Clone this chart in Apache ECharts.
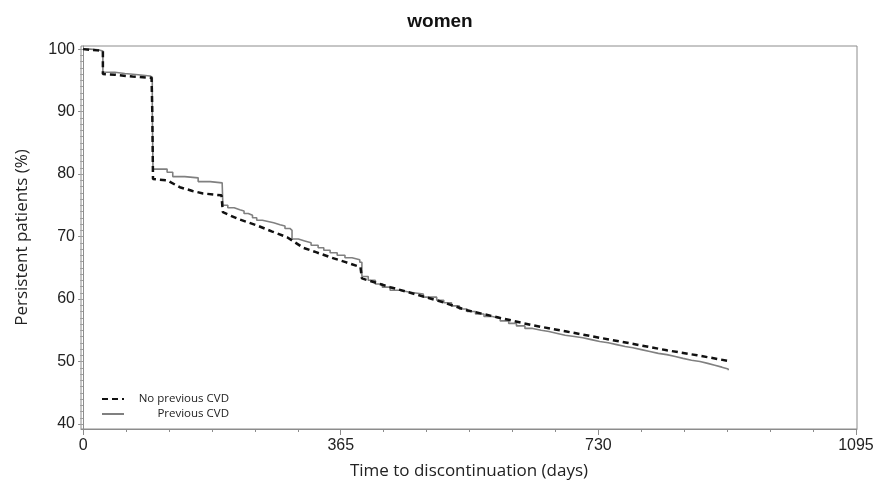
<!DOCTYPE html>
<html>
<head>
<meta charset="utf-8">
<script src="https://cdn.jsdelivr.net/npm/echarts@6/dist/echarts.min.js"></script>
<style>
  html, body { margin: 0; padding: 0; background: #fff; }
  #chart { width: 880px; height: 485px; }
</style>
</head>
<body>
<div id="chart"></div>
<script>
// tick labels
const xTicks = [0, 365, 730, 1095];
const yTicks = [40, 50, 60, 70, 80, 90, 100];

// No previous CVD: [day, % persistent], drawn as a polyline (drops given twice)
const noPrevCvd = [
  [0, 100], [20, 99.8], [28, 99.7], [28, 96.0], [45, 95.9], [70, 95.6], [97, 95.4],
  [98, 90.0], [99, 79.2], [119, 79.0], [137, 77.9], [155, 77.3], [170, 76.9],
  [196, 76.6], [198, 73.9], [220, 72.8], [246, 71.8], [268, 70.8], [289, 69.9],
  [312, 68.2], [330, 67.5], [350, 66.7], [372, 65.9], [393, 65.1], [395, 63.3],
  [415, 62.6], [435, 61.9], [470, 60.8], [501, 59.8], [544, 58.2], [590, 57.0],
  [637, 55.8], [685, 54.8], [732, 53.8], [780, 52.8], [827, 51.8], [870, 51.0],
  [914, 50.1]
];

// Previous CVD: [day, % persistent], step curve
const prevCvd = [
  [0, 100], [10, 99.9], [21, 99.7], [28, 96.3], [45, 96.1], [59, 95.9], [78, 95.7],
  [95, 95.5], [98, 90.0], [99, 80.8], [119, 80.3], [127, 79.6], [144, 79.4],
  [163, 78.8], [180, 78.6], [197, 78.5], [198, 75.0], [205, 74.6], [214, 74.3],
  [222, 74.1], [228, 73.7], [234, 73.4], [240, 73.0], [246, 72.6], [254, 72.4],
  [262, 72.2], [270, 71.9], [279, 71.7], [286, 71.3], [293, 71.0], [296, 69.6],
  [305, 69.3], [314, 69.0], [323, 68.6], [333, 68.2], [341, 67.8], [350, 67.4],
  [360, 67.0], [371, 66.6], [381, 66.3], [392, 65.9], [395, 63.6], [404, 63.0],
  [414, 62.4], [424, 61.9], [435, 61.4], [449, 61.1], [463, 60.8], [482, 60.3],
  [501, 59.8], [511, 59.4], [522, 58.9], [533, 58.4], [544, 58.0], [556, 57.6],
  [568, 57.2], [580, 56.9], [591, 56.5], [603, 56.1], [614, 55.7], [626, 55.3],
  [637, 55.0], [649, 54.8], [660, 54.5], [672, 54.2], [683, 54.0], [696, 53.8],
  [708, 53.5], [720, 53.2], [732, 53.0], [744, 52.7], [756, 52.4], [768, 52.2],
  [779, 51.9], [791, 51.6], [803, 51.3], [815, 51.1], [827, 50.8], [839, 50.5],
  [850, 50.2], [862, 50.0], [874, 49.7], [885, 49.4], [895, 49.1], [905, 48.8],
  [914, 48.6]
];

const yMinor = [];
for (let v = 40; v <= 100; v++) yMinor.push(v);
const xMinor = [];
for (let k = 0; k <= 18; k++) xMinor.push(k * 365 / 6);

const tickFamily = '"Liberation Sans", Arial, sans-serif';
const nameFamily = '"Open Sans", "Noto Sans", sans-serif';

const chart = echarts.init(document.getElementById('chart'));
chart.setOption({
  animation: false,
  title: {
    text: 'women',
    left: 'center',
    top: 7,
    textStyle: { fontFamily: tickFamily, fontSize: 19, fontWeight: 'bold', color: '#111' }
  },
  grid: {
    left: 81, right: 23, top: 46, bottom: 56,
    show: true, borderColor: '#8c8c8c', borderWidth: 1
  },
  legend: {
    left: 96, top: 388, orient: 'vertical', itemWidth: 22, itemHeight: 10, itemGap: 3,
    data: ['No previous CVD', 'Previous CVD'],
    itemStyle: { opacity: 0 },
    formatter: name => '{a|' + name + '}',
    textStyle: {
      rich: { a: { width: 100, align: 'right', fontFamily: nameFamily, fontSize: 11.5, color: '#222' } }
    }
  },
  xAxis: [
    {
      type: 'value', min: -3, max: 1096.5,
      name: 'Time to discontinuation (days)', nameLocation: 'middle', nameGap: 34,
      nameTextStyle: { fontFamily: nameFamily, fontSize: 17, color: '#222' },
      axisLine: { show: true, lineStyle: { color: '#8c8c8c' } },
      axisTick: { show: true, length: 6, customValues: xTicks, lineStyle: { color: '#8c8c8c' } },
      axisLabel: {
        customValues: xTicks, margin: 9, formatter: v => String(v),
        fontFamily: tickFamily, fontSize: 16, color: '#222'
      },
      splitLine: { show: false }
    },
    {
      type: 'value', min: -3, max: 1096.5, position: 'bottom',
      axisLine: { show: false },
      axisTick: { show: true, length: 3, customValues: xMinor, lineStyle: { color: '#8c8c8c' } },
      axisLabel: { show: false },
      splitLine: { show: false }
    }
  ],
  yAxis: [
    {
      type: 'value', min: 39.2, max: 100.5,
      name: 'Persistent patients (%)', nameLocation: 'middle', nameGap: 50,
      nameTextStyle: { fontFamily: nameFamily, fontSize: 17, color: '#222' },
      axisLine: { show: true, lineStyle: { color: '#8c8c8c' } },
      axisTick: { show: true, length: 5, customValues: yTicks, lineStyle: { color: '#8c8c8c' } },
      axisLabel: {
        customValues: yTicks, margin: 6, formatter: v => String(v),
        fontFamily: tickFamily, fontSize: 16, color: '#222'
      },
      splitLine: { show: false }
    },
    {
      type: 'value', min: 39.2, max: 100.5, position: 'left',
      axisLine: { show: false },
      axisTick: { show: true, length: 3, customValues: yMinor, lineStyle: { color: '#a0a0a0' } },
      axisLabel: { show: false },
      splitLine: { show: false }
    }
  ],
  series: [
    {
      name: 'No previous CVD', type: 'line', symbol: 'none',
      data: noPrevCvd, z: 3,
      lineStyle: { color: '#111', width: 2.5, type: [6, 4] },
      itemStyle: { color: '#111' }
    },
    {
      name: 'Previous CVD', type: 'line', step: 'end', symbol: 'none',
      data: prevCvd, z: 2,
      lineStyle: { color: '#808080', width: 1.6 },
      itemStyle: { color: '#808080' }
    }
  ]
});
</script>
</body>
</html>
